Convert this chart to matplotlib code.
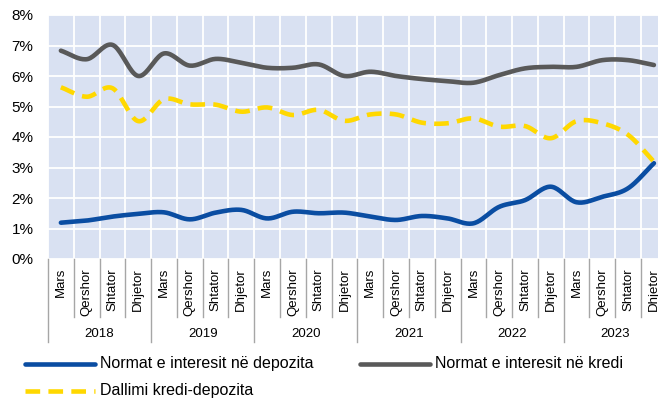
import numpy as np
import matplotlib
matplotlib.use("Agg")
import matplotlib.pyplot as plt
from matplotlib.lines import Line2D
import matplotlib.transforms as mtransforms

plt.rcParams['font.family'] = ['Liberation Sans', 'DejaVu Sans']

years = ["2018", "2019", "2020", "2021", "2022", "2023"]
months = ["Mars", "Qershor", "Shtator", "Dhjetor"]

depozita = [1.19, 1.26, 1.39, 1.48, 1.53, 1.30, 1.52, 1.61, 1.33, 1.55, 1.50, 1.52,
            1.39, 1.28, 1.41, 1.33, 1.17, 1.71, 1.93, 2.37, 1.86, 2.04, 2.32, 3.14]
kredi = [6.83, 6.55, 7.02, 6.00, 6.74, 6.34, 6.56, 6.43, 6.27, 6.27, 6.38, 6.00,
         6.14, 6.00, 5.90, 5.83, 5.78, 6.03, 6.25, 6.30, 6.30, 6.52, 6.52, 6.36]
dallimi = [5.63, 5.32, 5.60, 4.52, 5.24, 5.07, 5.06, 4.83, 4.97, 4.72, 4.89, 4.53,
           4.74, 4.74, 4.47, 4.45, 4.61, 4.34, 4.36, 3.96, 4.52, 4.45, 4.07, 3.19]

labels = ["Normat e interesit në depozita", "Normat e interesit në kredi",
          "Dallimi kredi-depozita"]
colors = ["#0A4DA2", "#595959", "#FFD800"]


def smooth(y, n=20):
    """Catmull-Rom smoothing in data space (like Excel smoothed lines)."""
    y = np.asarray(y, float)
    x = np.arange(len(y), dtype=float)
    P = np.column_stack([x, y])
    P = np.vstack([P[0] - (P[1] - P[0]), P, P[-1] + (P[-1] - P[-2])])
    out = []
    t = np.linspace(0, 1, n, endpoint=False)[:, None]
    for i in range(1, len(P) - 2):
        p0, p1, p2, p3 = P[i - 1], P[i], P[i + 1], P[i + 2]
        seg = 0.5 * ((2 * p1) + (-p0 + p2) * t + (2 * p0 - 5 * p1 + 4 * p2 - p3) * t ** 2
                     + (-p0 + 3 * p1 - 3 * p2 + p3) * t ** 3)
        out.append(seg)
    out.append(P[-2][None, :])
    S = np.vstack(out)
    return S[:, 0], S[:, 1]


W, H = 658, 400
fig = plt.figure(figsize=(W / 100, H / 100), dpi=100)
left, right, bottom, top = 48, 666.8, 259, 15
ax = fig.add_axes([left / W, 1 - bottom / H, (right - left) / W, (bottom - top) / H])
ax.set_facecolor("#D9E1F2")
for s in ax.spines.values():
    s.set_visible(False)

n = len(kredi)
ax.set_xlim(-0.5, n - 0.5)
ax.set_ylim(0, 8)
ax.set_yticks(np.arange(0, 9, 1))
ax.set_yticklabels([f"{v}%" for v in range(9)], fontsize=11)
ax.tick_params(axis='y', length=0, pad=10.5)
ax.set_xticks(np.arange(-0.5, n, 1), minor=False)
ax.set_xticklabels([])
ax.tick_params(axis='x', length=0)
ax.grid(True, color="white", linewidth=1.3)
ax.set_axisbelow(True)

lw = 3.3
xs, ys = smooth(depozita)
ax.plot(xs, ys, color=colors[0], lw=lw, solid_capstyle='round', clip_on=False)
xs, ys = smooth(kredi)
ax.plot(xs, ys, color=colors[1], lw=lw, solid_capstyle='round', clip_on=False)
xs, ys = smooth(dallimi)
ax.plot(xs, ys, color=colors[2], lw=lw, dashes=(3.2, 1.8), dash_capstyle='butt', clip_on=False)

# category axis (two levels)
trans = mtransforms.blended_transform_factory(ax.transData, ax.transAxes)
hpx = bottom - top
for k in range(n + 1):
    depth = 83 if k % 4 == 0 else 58
    ax.plot([k - 0.5, k - 0.5], [0, -depth / hpx], transform=trans, color="#A6A6A6",
            lw=1.0, clip_on=False)
for i in range(n):
    ax.text(i, -9 / hpx, months[i % 4], transform=trans, rotation=90, ha='center',
            va='top', fontsize=9.5, color="black")
for j, yr in enumerate(years):
    ax.text(j * 4 + 1.5, -75 / hpx, yr, transform=trans, ha='center', va='center',
            fontsize=9.5, color="black")

# legend
def leg(x0, x1, y, color, text, dashed=False):
    kw = dict(dashes=(3.2, 1.8), dash_capstyle='butt') if dashed else dict(solid_capstyle='round')
    fig.add_artist(Line2D([x0 / W, x1 / W], [1 - y / H, 1 - y / H], color=color, lw=lw, **kw))
    fig.text((x1 + 5) / W, 1 - y / H, text, ha='left', va='center', fontsize=11.5)

leg(25, 95, 363.5, colors[0], labels[0])
leg(360, 430, 363.5, colors[1], labels[1])
leg(25, 95, 390.5, colors[2], labels[2], dashed=True)

fig.savefig("out.png", dpi=100)
